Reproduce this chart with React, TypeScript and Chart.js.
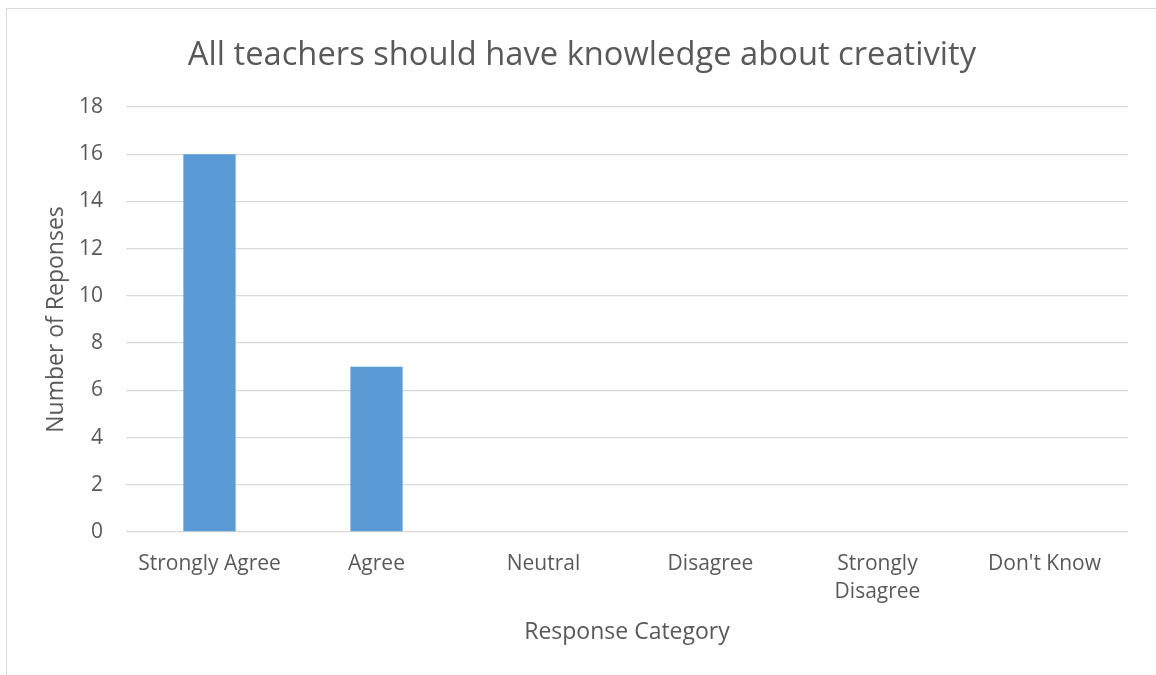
import React, { useEffect, useRef } from "react";
import { Chart, registerables } from "chart.js";

Chart.register(...registerables);

const chartTitle = "All teachers should have knowledge about creativity";
const categories: (string | string[])[] = [
  "Strongly Agree",
  "Agree",
  "Neutral",
  "Disagree",
  ["Strongly", "Disagree"],
  "Don't Know",
];
const responses = [16, 7, 0, 0, 0, 0];
const yMin = 0;
const yMax = 18;
const yStep = 2;
const xAxisTitle = "Response Category";
const yAxisTitle = "Number of Reponses";

const TEXT = "#595959";
const GRID = "#d9d9d9";
const BAR = "#5B9BD5";
const FONT = "'Open Sans', 'Noto Sans', sans-serif";

export default function App() {
  const ref = useRef<HTMLCanvasElement | null>(null);

  useEffect(() => {
    if (!ref.current) return;
    const chart = new Chart(ref.current, {
      type: "bar",
      data: {
        labels: categories,
        datasets: [
          {
            data: responses,
            backgroundColor: BAR,
            borderWidth: 0,
            barPercentage: 0.313,
            categoryPercentage: 1,
            yAxisID: "y",
          },
        ],
      },
      options: {
        animation: false,
        responsive: false,
        maintainAspectRatio: false,
        layout: { padding: { left: 8, right: 0, top: 0, bottom: 0 } },
        plugins: {
          legend: { display: false },
          tooltip: { enabled: false },
          title: {
            display: true,
            text: chartTitle,
            color: TEXT,
            font: { family: FONT, size: 32.7, weight: "normal", lineHeight: 1.2 },
            padding: { top: 36.4, bottom: 31.36 },
          },
        },
        scales: {
          x: {
            grid: { display: false, drawTicks: false },
            border: { display: false },
            ticks: {
              color: TEXT,
              font: { family: FONT, size: 21, lineHeight: 1.31 },
              padding: 18.5,
              maxRotation: 0,
              autoSkip: false,
            },
            title: {
              display: true,
              text: xAxisTitle,
              color: TEXT,
              font: { family: FONT, size: 23, lineHeight: 1.2 },
              padding: { top: 0, bottom: 29 },
            },
            afterFit: (scale: any) => {
              scale.height = 143;
            },
          },
          y: {
            position: "left",
            min: yMin,
            max: yMax,
            grid: { color: GRID, lineWidth: 1.3, drawTicks: false },
            border: { display: false },
            ticks: {
              stepSize: yStep,
              color: TEXT,
              font: { family: FONT, size: 21 },
              padding: 23,
            },
            title: {
              display: true,
              text: yAxisTitle,
              color: TEXT,
              font: { family: FONT, size: 23, lineHeight: 1.2 },
              padding: { top: 34.2, bottom: 0 },
            },
            afterFit: (scale: any) => {
              scale.width = 118;
            },
          },
          yRight: {
            position: "right",
            display: true,
            grid: { display: false, drawTicks: false },
            border: { display: false },
            ticks: { display: false },
            afterFit: (scale: any) => {
              scale.width = 28;
            },
          },
        },
      },
    });
    return () => chart.destroy();
  }, []);

  return (
    <div
      style={{
        position: "fixed",
        left: 0,
        top: 0,
        width: 1156,
        height: 675,
        overflow: "hidden",
        background: "#ffffff",
      }}
    >
      <div
        style={{
          position: "absolute",
          left: 6,
          top: 8,
          width: 1200,
          height: 700,
          border: `1px solid ${GRID}`,
          boxSizing: "border-box",
        }}
      />
      <canvas
        ref={ref}
        width={1156}
        height={675}
        style={{ position: "absolute", left: 0, top: 0, width: 1156, height: 675 }}
      />
    </div>
  );
}
